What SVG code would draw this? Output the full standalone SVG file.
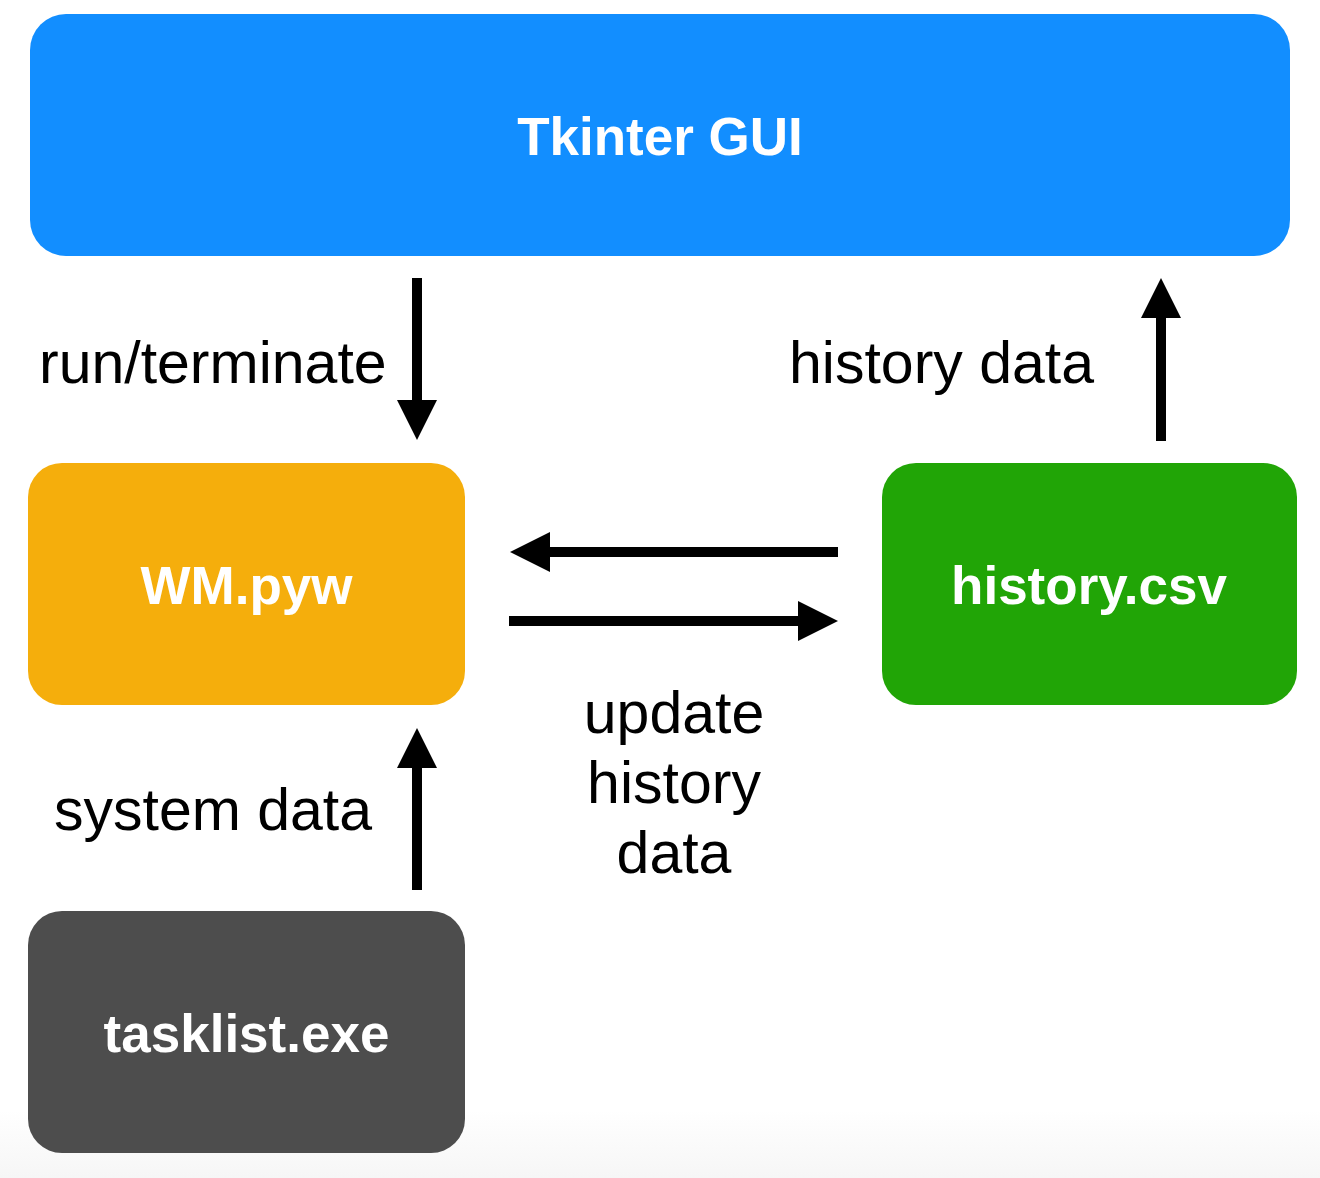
<svg xmlns="http://www.w3.org/2000/svg" width="1320" height="1178" viewBox="0 0 1320 1178">
<style>
.box-label{font-family:"Liberation Sans",Arial,sans-serif;font-weight:bold;font-size:53px;fill:#ffffff;text-anchor:middle}
.edge-label{font-family:"Liberation Sans",Arial,sans-serif;font-size:59px;fill:#000000}
.conn{stroke:#000000;stroke-width:10;fill:none;marker-end:url(#head)}
</style>
<defs>
<marker id="head" markerUnits="userSpaceOnUse" markerWidth="40" markerHeight="40" viewBox="0 0 40 40" refX="0" refY="20" orient="auto">
<path d="M0,0 L40,20 L0,40 Z" fill="#000000"/>
</marker>
<linearGradient id="bottomfade" x1="0" y1="0" x2="0" y2="1">
<stop offset="0" stop-color="#ffffff"/>
<stop offset="1" stop-color="#f6f6f6"/>
</linearGradient>
</defs>
<rect x="0" y="0" width="1320" height="1178" fill="#ffffff"/>
<rect x="0" y="1110" width="1320" height="68" fill="url(#bottomfade)"/>
<g id="tkinter-gui">
<rect x="30" y="14" width="1260" height="242" rx="36" ry="36" fill="#128EFF"/>
<text class="box-label" x="660" y="155">Tkinter GUI</text>
</g>
<g id="wm-pyw">
<rect x="28" y="463" width="437" height="242" rx="34" ry="34" fill="#F5AE0C"/>
<text class="box-label" x="246.5" y="604">WM.pyw</text>
</g>
<g id="history-csv">
<rect x="882" y="463" width="415" height="242" rx="34" ry="34" fill="#21A506"/>
<text class="box-label" x="1089" y="604">history.csv</text>
</g>
<g id="tasklist-exe">
<rect x="28" y="911" width="437" height="242" rx="34" ry="34" fill="#4D4D4D"/>
<text class="box-label" x="246.5" y="1052">tasklist.exe</text>
</g>
<g id="connectors">
<line class="conn" x1="417" y1="278" x2="417" y2="400"/>
<line class="conn" x1="1161" y1="441" x2="1161" y2="318"/>
<line class="conn" x1="417" y1="890" x2="417" y2="768"/>
<line class="conn" x1="838" y1="552" x2="550" y2="552"/>
<line class="conn" x1="509" y1="621" x2="798" y2="621"/>
<text class="edge-label" x="39" y="383">run/terminate</text>
<text class="edge-label" x="789" y="383">history data</text>
<text class="edge-label" x="54" y="830">system data</text>
<text class="edge-label" x="674" y="733" text-anchor="middle">update</text>
<text class="edge-label" x="674" y="803" text-anchor="middle">history</text>
<text class="edge-label" x="674" y="873" text-anchor="middle">data</text>
</g>
</svg>
